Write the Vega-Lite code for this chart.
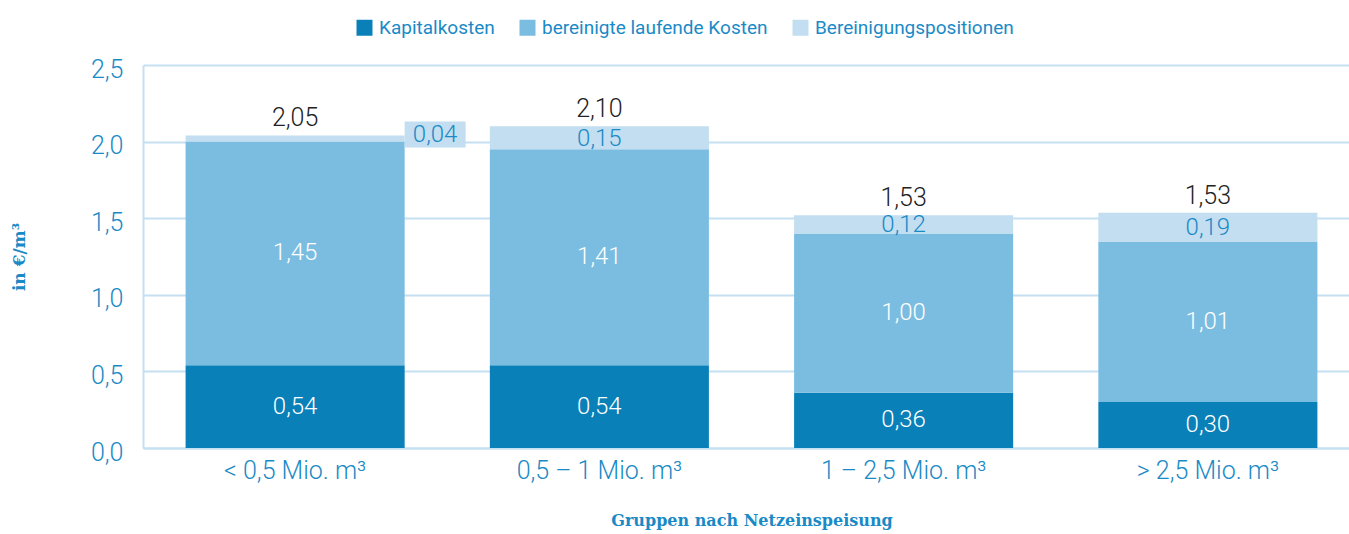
{
  "$schema": "https://vega.github.io/schema/vega-lite/v6.json",
  "width": 1217,
  "height": 383,
  "autosize": {"type": "none"},
  "padding": {"left": 143, "top": 65, "right": 0, "bottom": 86},
  "background": "white",
  "config": {
    "view": {"stroke": null},
    "font": "Roboto",
    "locale": {"number": {"decimal": ",", "thousands": ".", "grouping": [3], "currency": ["", " €"]}}
  },
  "datasets": {
    "seg": [
      {"g": "< 0,5 Mio. m³", "k": "Kapitalkosten", "v": 0.54, "lab": "0,54", "o": 1},
      {"g": "< 0,5 Mio. m³", "k": "bereinigte laufende Kosten", "v": 1.46, "lab": "1,45", "o": 2},
      {"g": "< 0,5 Mio. m³", "k": "Bereinigungspositionen", "v": 0.04, "lab": "0,04", "o": 3, "out": true},
      {"g": "0,5 – 1 Mio. m³", "k": "Kapitalkosten", "v": 0.54, "lab": "0,54", "o": 1},
      {"g": "0,5 – 1 Mio. m³", "k": "bereinigte laufende Kosten", "v": 1.41, "lab": "1,41", "o": 2},
      {"g": "0,5 – 1 Mio. m³", "k": "Bereinigungspositionen", "v": 0.15, "lab": "0,15", "o": 3},
      {"g": "1 – 2,5 Mio. m³", "k": "Kapitalkosten", "v": 0.36, "lab": "0,36", "o": 1},
      {"g": "1 – 2,5 Mio. m³", "k": "bereinigte laufende Kosten", "v": 1.04, "lab": "1,00", "o": 2},
      {"g": "1 – 2,5 Mio. m³", "k": "Bereinigungspositionen", "v": 0.12, "lab": "0,12", "o": 3},
      {"g": "> 2,5 Mio. m³", "k": "Kapitalkosten", "v": 0.30, "lab": "0,30", "o": 1},
      {"g": "> 2,5 Mio. m³", "k": "bereinigte laufende Kosten", "v": 1.045, "lab": "1,01", "o": 2},
      {"g": "> 2,5 Mio. m³", "k": "Bereinigungspositionen", "v": 0.19, "lab": "0,19", "o": 3}
    ],
    "tot": [
      {"g": "< 0,5 Mio. m³", "total": "2,05", "top": 2.04},
      {"g": "0,5 – 1 Mio. m³", "total": "2,10", "top": 2.10},
      {"g": "1 – 2,5 Mio. m³", "total": "1,53", "top": 1.52},
      {"g": "> 2,5 Mio. m³", "total": "1,53", "top": 1.535}
    ]
  },
  "encoding": {
    "x": {
      "field": "g",
      "type": "nominal",
      "sort": ["< 0,5 Mio. m³", "0,5 – 1 Mio. m³", "1 – 2,5 Mio. m³", "> 2,5 Mio. m³"],
      "scale": {"paddingInner": 0.28, "paddingOuter": 0.14},
      "title": "Gruppen nach Netzeinspeisung",
      "axis": {
        "labelAngle": 0,
        "labelFont": "Roboto",
        "labelFontWeight": 300,
        "labelFontSize": 25,
        "labelColor": "#1a8ac6",
        "labelPadding": 10,
        "ticks": false,
        "domain": true,
        "domainColor": "#c5e0f1",
        "domainWidth": 2,
        "titleFont": "DejaVu Serif",
        "titleFontWeight": "bold",
        "titleFontSize": 16,
        "titleColor": "#1a8ac6",
        "titlePadding": 29
      }
    }
  },
  "layer": [
    {
      "data": {"name": "seg"},
      "transform": [
        {"stack": "v", "groupby": ["g"], "sort": [{"field": "o"}], "as": ["y0", "y1"]}
      ],
      "mark": {"type": "bar"},
      "encoding": {
        "y": {
          "field": "y0",
          "type": "quantitative",
          "scale": {"domain": [0, 2.5], "nice": false},
          "title": "in €/m³",
          "axis": {
            "values": [0, 0.5, 1, 1.5, 2, 2.5],
            "format": ".1f",
            "grid": true,
            "gridColor": "#c5e0f1",
            "gridWidth": 2,
            "domain": true,
            "domainColor": "#c5e0f1",
            "domainWidth": 2,
            "ticks": false,
            "labelFont": "Roboto",
            "labelFontWeight": 300,
            "labelFontSize": 25,
            "labelColor": "#1a8ac6",
            "labelPadding": 20,
            "labelOffset": 4,
            "titleFont": "DejaVu Serif",
            "titleFontWeight": "bold",
            "titleFontSize": 17,
            "titleColor": "#1a8ac6",
            "titlePadding": 62
          }
        },
        "y2": {"field": "y1"},
        "color": {
          "field": "k",
          "type": "nominal",
          "scale": {
            "domain": ["Kapitalkosten", "bereinigte laufende Kosten", "Bereinigungspositionen"],
            "range": ["#0a80b8", "#7bbde0", "#c2def0"]
          },
          "legend": {
            "title": null,
            "orient": "none",
            "legendX": 212,
            "legendY": -47,
            "direction": "horizontal",
            "symbolType": "square",
            "symbolSize": 256,
            "symbolStrokeWidth": 0,
            "symbolOpacity": 1,
            "labelFont": "Roboto",
            "labelFontSize": 19,
            "labelLimit": 500,
            "labelColor": "#1a8ac6",
            "labelOffset": 5,
            "columnPadding": 23
          }
        }
      }
    },
    {
      "data": {"name": "seg"},
      "transform": [
        {"stack": "v", "groupby": ["g"], "sort": [{"field": "o"}], "as": ["y0", "y1"]},
        {"calculate": "(datum.y0 + datum.y1) / 2", "as": "ym"},
        {"filter": "datum.o < 3"}
      ],
      "mark": {"type": "text", "color": "white", "fontSize": 24, "fontWeight": 300, "baseline": "middle"},
      "encoding": {
        "y": {"field": "ym", "type": "quantitative", "scale": {"domain": [0, 2.5], "nice": false}},
        "text": {"field": "lab", "type": "nominal"}
      }
    },
    {
      "data": {"name": "seg"},
      "transform": [
        {"stack": "v", "groupby": ["g"], "sort": [{"field": "o"}], "as": ["y0", "y1"]},
        {"calculate": "(datum.y0 + datum.y1) / 2", "as": "ym"},
        {"filter": "datum.o == 3 && !datum.out"}
      ],
      "mark": {"type": "text", "color": "#1a8ac6", "fontSize": 24, "fontWeight": 300, "baseline": "middle", "dy": 1},
      "encoding": {
        "y": {"field": "ym", "type": "quantitative", "scale": {"domain": [0, 2.5], "nice": false}},
        "text": {"field": "lab", "type": "nominal"}
      }
    },
    {
      "data": {"name": "seg"},
      "transform": [
        {"stack": "v", "groupby": ["g"], "sort": [{"field": "o"}], "as": ["y0", "y1"]},
        {"calculate": "(datum.y0 + datum.y1) / 2", "as": "ym"},
        {"filter": "datum.out == true"}
      ],
      "mark": {
        "type": "point",
        "filled": true,
        "opacity": 1,
        "color": "#c2def0",
        "shape": "M-1,-0.426L1,-0.426L1,0.426L-1,0.426Z",
        "size": 3721,
        "xOffset": 140,
        "yOffset": -4
      },
      "encoding": {
        "y": {"field": "ym", "type": "quantitative", "scale": {"domain": [0, 2.5], "nice": false}}
      }
    },
    {
      "data": {"name": "seg"},
      "transform": [
        {"stack": "v", "groupby": ["g"], "sort": [{"field": "o"}], "as": ["y0", "y1"]},
        {"calculate": "(datum.y0 + datum.y1) / 2", "as": "ym"},
        {"filter": "datum.out == true"}
      ],
      "mark": {"type": "text", "color": "#1a8ac6", "fontSize": 24, "fontWeight": 300, "baseline": "middle", "dx": 140, "dy": -4},
      "encoding": {
        "y": {"field": "ym", "type": "quantitative", "scale": {"domain": [0, 2.5], "nice": false}},
        "text": {"field": "lab", "type": "nominal"}
      }
    },
    {
      "data": {"name": "tot"},
      "mark": {"type": "text", "color": "#222222", "fontSize": 25, "fontWeight": 300, "baseline": "bottom", "dy": -4},
      "encoding": {
        "y": {"field": "top", "type": "quantitative", "scale": {"domain": [0, 2.5], "nice": false}},
        "text": {"field": "total", "type": "nominal"}
      }
    }
  ]
}
